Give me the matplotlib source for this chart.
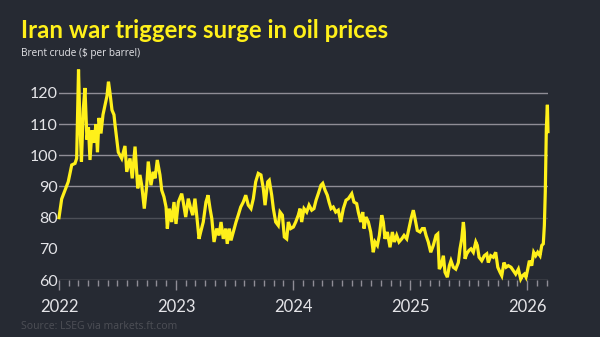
import numpy as np
import matplotlib.pyplot as plt

# Brent crude, $ per barrel (time in years since 1 Jan 2022)
t_years = [
    0.000, 0.023, 0.051, 0.079, 0.109, 0.137, 0.151, 0.167, 0.179, 0.192,
    0.208, 0.222, 0.239, 0.252, 0.265, 0.282, 0.299, 0.316, 0.329, 0.342,
    0.359, 0.376, 0.393, 0.410, 0.423, 0.436, 0.453, 0.470, 0.479, 0.507,
    0.536, 0.564, 0.579, 0.607, 0.626, 0.650, 0.673, 0.692, 0.707, 0.729,
    0.750, 0.763, 0.786, 0.806, 0.821, 0.840, 0.863, 0.878, 0.897, 0.915,
    0.926, 0.943, 0.963, 0.983, 1.000, 1.020, 1.049, 1.062, 1.083, 1.105,
    1.126, 1.143, 1.162, 1.177, 1.197, 1.211, 1.233, 1.256, 1.274, 1.291,
    1.306, 1.325, 1.348, 1.368, 1.385, 1.404, 1.425, 1.438, 1.456, 1.470,
    1.490, 1.513, 1.532, 1.553, 1.575, 1.596, 1.618, 1.641, 1.661, 1.681,
    1.703, 1.726, 1.746, 1.761, 1.784, 1.797, 1.818, 1.832, 1.852, 1.874,
    1.889, 1.909, 1.926, 1.946, 1.960, 1.980, 2.003, 2.023, 2.045, 2.060,
    2.074, 2.094, 2.117, 2.137, 2.160, 2.179, 2.197, 2.216, 2.239, 2.254,
    2.274, 2.293, 2.308, 2.325, 2.344, 2.365, 2.387, 2.408, 2.430, 2.453,
    2.473, 2.502, 2.521, 2.544, 2.558, 2.579, 2.596, 2.607, 2.624, 2.644,
    2.664, 2.686, 2.701, 2.721, 2.738, 2.758, 2.772, 2.786, 2.806, 2.829,
    2.849, 2.866, 2.886, 2.906, 2.929, 2.949, 2.972, 2.991, 3.009, 3.028,
    3.043, 3.062, 3.085, 3.105, 3.122, 3.137, 3.156, 3.177, 3.199, 3.222,
    3.237, 3.250, 3.265, 3.285, 3.299, 3.319, 3.336, 3.350, 3.370, 3.391,
    3.413, 3.427, 3.442, 3.456, 3.464, 3.470, 3.485, 3.504, 3.521, 3.541,
    3.562, 3.575, 3.590, 3.613, 3.635, 3.656, 3.669, 3.690, 3.712, 3.732,
    3.750, 3.769, 3.784, 3.803, 3.821, 3.840, 3.863, 3.883, 3.903, 3.926,
    3.946, 3.962, 3.977, 3.991, 4.006, 4.020, 4.040, 4.057, 4.074, 4.091,
    4.111, 4.126, 4.139, 4.148, 4.156, 4.165, 4.174, 4.179,
]
brent = [
    80.0, 86.0, 88.8, 91.5, 96.9, 97.4, 99.0, 127.5, 110.0, 98.0,
    115.0, 121.6, 105.0, 109.0, 98.5, 108.0, 104.0, 110.0, 101.0, 112.0,
    107.0, 113.0, 116.0, 119.0, 123.6, 120.0, 114.5, 113.0, 109.8, 101.0,
    99.0, 103.0, 94.7, 99.0, 92.6, 102.8, 89.4, 93.7, 90.4, 82.9,
    90.4, 98.0, 90.4, 94.7, 92.6, 98.5, 93.7, 88.8, 86.7, 83.4,
    76.5, 82.9, 78.6, 85.0, 78.0, 85.0, 87.7, 85.0, 80.2, 86.1,
    82.9, 80.8, 86.1, 80.8, 73.2, 75.4, 78.6, 85.0, 87.2, 82.9,
    79.7, 72.2, 76.5, 74.3, 78.6, 73.2, 76.5, 71.6, 76.5, 72.7,
    75.4, 78.6, 80.8, 83.4, 85.0, 87.2, 84.0, 82.9, 86.1, 91.5,
    94.2, 93.7, 89.4, 84.0, 91.5, 92.0, 87.2, 82.9, 78.6, 77.5,
    81.8, 80.8, 73.8, 73.2, 78.6, 76.5, 77.0, 78.6, 80.8, 82.9,
    78.6, 82.9, 81.8, 84.0, 82.4, 82.9, 85.6, 87.7, 90.4, 91.0,
    88.8, 87.2, 85.0, 82.9, 83.4, 81.8, 82.4, 78.6, 82.9, 85.6,
    86.1, 87.7, 85.0, 84.5, 81.8, 78.6, 81.8, 76.5, 80.2, 78.6,
    75.4, 68.9, 72.2, 71.1, 74.3, 80.8, 78.6, 73.2, 75.4, 70.5,
    75.4, 72.2, 74.3, 72.2, 73.2, 74.3, 73.2, 76.5, 79.7, 82.4,
    79.7, 75.9, 75.4, 76.5, 76.5, 74.3, 72.2, 68.9, 71.1, 74.3,
    74.8, 63.5, 64.6, 67.8, 62.5, 60.9, 64.6, 66.2, 64.1, 63.5,
    65.6, 70.0, 73.2, 78.6, 75.4, 66.8, 68.4, 69.5, 70.0, 68.9,
    72.2, 71.1, 67.3, 66.2, 67.8, 68.4, 65.6, 67.8, 67.3, 68.9,
    64.1, 62.5, 61.4, 65.6, 64.1, 64.6, 64.1, 63.0, 61.9, 63.5,
    60.3, 61.4, 61.9, 60.9, 63.5, 66.2, 64.6, 68.9, 67.8, 68.9,
    67.8, 71.1, 71.6, 77.5, 88.3, 108.7, 116.2, 107.6,
]
y_ticks = [60, 70, 80, 90, 100, 110, 120]
year_ticks = [2022, 2023, 2024, 2025, 2026]

BG = '#262a33'
YELLOW = '#fff01a'
GRID = '#8f8d96'

fig = plt.figure(figsize=(6.0, 3.37), dpi=100, facecolor=BG)
ax = fig.add_axes([0.0983, 0.1691, 0.815, 0.6291], facecolor=BG)

x = 2022 + np.array(t_years)
ax.plot(x, brent, color=YELLOW, linewidth=2.3, solid_joinstyle='miter', clip_on=False, zorder=3)

# horizontal rules: 80 is drawn darker, 70 not drawn, 60 is the baseline
for level in y_ticks:
    if level == 70:
        continue
    if level == 80:
        c = '#4c4f57'
    elif level == 60:
        c = '#7d7c84'
    else:
        c = GRID
    ax.axhline(level, color=c, linewidth=1.0, zorder=1)

ax.set_xlim(2022, 2022 + t_years[-1])
ax.set_ylim(60, 128)
ax.set_yticks(y_ticks)
ax.set_xticks(year_ticks)
ax.set_xticklabels([str(y) for y in year_ticks])
ax.set_xticks(np.arange(2022, 2022 + t_years[-1], 1 / 12), minor=True)

for side in ['top', 'right', 'left', 'bottom']:
    ax.spines[side].set_visible(False)

ax.tick_params(axis='y', length=0, pad=1, labelsize=11.5, labelcolor='#e4e4e8')
ax.tick_params(axis='x', which='major', length=7, width=1, color=GRID,
               pad=7, labelsize=12, labelcolor='#e4e4e8')
ax.tick_params(axis='x', which='minor', length=4, width=1, color=GRID)
for lab in ax.get_xticklabels() + ax.get_yticklabels():
    lab.set_family('Lato')

fig.text(0.035, 0.888, 'Iran war triggers surge in oil prices', color=YELLOW,
         fontsize=17.3, fontweight='bold', family='Lato', va='baseline')
fig.text(0.035, 0.833, 'Brent crude ($ per barrel)', color='#e4e4e8',
         fontsize=7.2, family='Open Sans', va='baseline')
fig.text(0.035, 0.025, 'Source: LSEG via markets.ft.com', color='#4d4f56',
         fontsize=7.5, family='Open Sans', va='baseline')

fig.savefig('out.png', dpi=100, facecolor=BG)
